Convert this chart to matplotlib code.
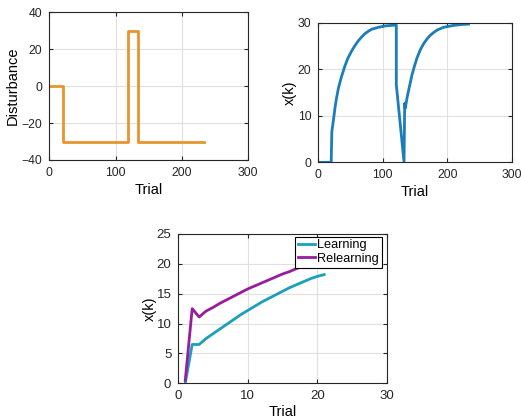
import matplotlib
matplotlib.use("Agg")
import matplotlib.pyplot as plt

plt.rcParams['font.family'] = ['Liberation Sans', 'DejaVu Sans']

# ---- data ----
dist_trials = [0, 20, 20, 119, 119, 133, 133, 233]
dist_values = [0, 0, -30, -30, 30, 30, -30, -30]

xk_trials = [0, 20, 21, 24, 26, 28, 31, 34, 36, 39, 41, 46, 52, 57, 62, 67, 72,
             78, 83, 93, 103, 112, 121, 121, 133, 134, 135, 136, 138, 140, 143,
             145, 149, 153, 158, 163, 168, 173, 178, 184, 194, 209, 221, 233]
xk_values = [0, 0, 6.6, 9.6, 11.8, 13.6, 15.8, 17.4, 18.4, 19.7, 20.6, 22.4,
             24.0, 25.1, 26.1, 26.9, 27.6, 28.2, 28.6, 29.0, 29.3, 29.4, 29.5,
             16.7, 0, 12.7, 11.6, 12.5, 14.1, 15.4, 17.3, 18.6, 20.6, 22.4,
             24.1, 25.4, 26.4, 27.2, 27.8, 28.4, 29.0, 29.4, 29.6, 29.7]

rel_trials = list(range(1, 22))
learning = [0, 6.5, 6.5, 7.5, 8.3, 9.1, 9.9, 10.7, 11.5, 12.2, 12.9, 13.6,
            14.2, 14.8, 15.4, 16.0, 16.5, 17.0, 17.5, 17.9, 18.2]
relearning = [0.5, 12.5, 11.1, 12.1, 12.7, 13.4, 14.0, 14.6, 15.2, 15.8, 16.3,
              16.8, 17.3, 17.8, 18.3, 18.7, 19.2, 19.6, 20.0, 20.4, 20.8]

orange = '#E8952C'
blue = '#1B7DBA'
cyan = '#1AA0B9'
purple = '#981C9E'
spine_c = '#262626'
grid_c = '#E0E0E0'

fig = plt.figure(figsize=(5.21, 4.18), dpi=100)


def style(ax, tick_fs):
    ax.grid(True, color=grid_c, linewidth=0.8)
    ax.set_axisbelow(True)
    for s in ax.spines.values():
        s.set_color(spine_c)
        s.set_linewidth(0.8)
    ax.tick_params(direction='in', length=3, width=0.8, colors=spine_c,
                   labelsize=tick_fs, top=True, right=True, pad=5)


ax1 = fig.add_axes([49.3 / 521, 1 - 160 / 418, 199 / 521, 147.7 / 418])
ax1.plot(dist_trials, dist_values, color=orange, lw=2)
ax1.set_xlim(0, 300)
ax1.set_ylim(-40, 40)
ax1.set_xticks([0, 100, 200, 300])
ax1.set_yticks([-40, -20, 0, 20, 40])
style(ax1, 8.8)
ax1.set_xlabel('Trial', fontsize=10.5, labelpad=3)
ax1.set_ylabel('Disturbance', fontsize=10.5, labelpad=1)

ax2 = fig.add_axes([318.3 / 521, 1 - 162.3 / 418, 193.4 / 521, 139.6 / 418])
ax2.plot(xk_trials, xk_values, color=blue, lw=2)
ax2.set_xlim(0, 300)
ax2.set_ylim(0, 30)
ax2.set_xticks([0, 100, 200, 300])
ax2.set_yticks([0, 10, 20, 30])
style(ax2, 8.8)
ax2.set_xlabel('Trial', fontsize=10.5, labelpad=3)
ax2.set_ylabel('x(k)', fontsize=10.5, labelpad=1)

ax3 = fig.add_axes([178.3 / 521, 1 - 383.3 / 418, 208.4 / 521, 149.3 / 418])
ax3.plot(rel_trials, learning, color=cyan, lw=2, label='Learning')
ax3.plot(rel_trials, relearning, color=purple, lw=2, label='Relearning')
ax3.set_xlim(0, 30)
ax3.set_ylim(0, 25)
ax3.set_xticks([0, 10, 20, 30])
ax3.set_yticks([0, 5, 10, 15, 20, 25])
style(ax3, 9.5)
ax3.set_xlabel('Trial', fontsize=10.5, labelpad=2)
ax3.set_ylabel('x(k)', fontsize=10.5, labelpad=0)
leg = ax3.legend(loc='upper right', bbox_to_anchor=(381.7 / 521, 1 - 236.5 / 418),
                 bbox_transform=fig.transFigure, borderaxespad=0, fontsize=9.2,
                 frameon=True, fancybox=False, framealpha=1, edgecolor='black',
                 borderpad=0.2, handlelength=1.4, handletextpad=0.15,
                 labelspacing=0.15)
leg.get_frame().set_linewidth(0.8)

fig.savefig('out.png', dpi=100)
